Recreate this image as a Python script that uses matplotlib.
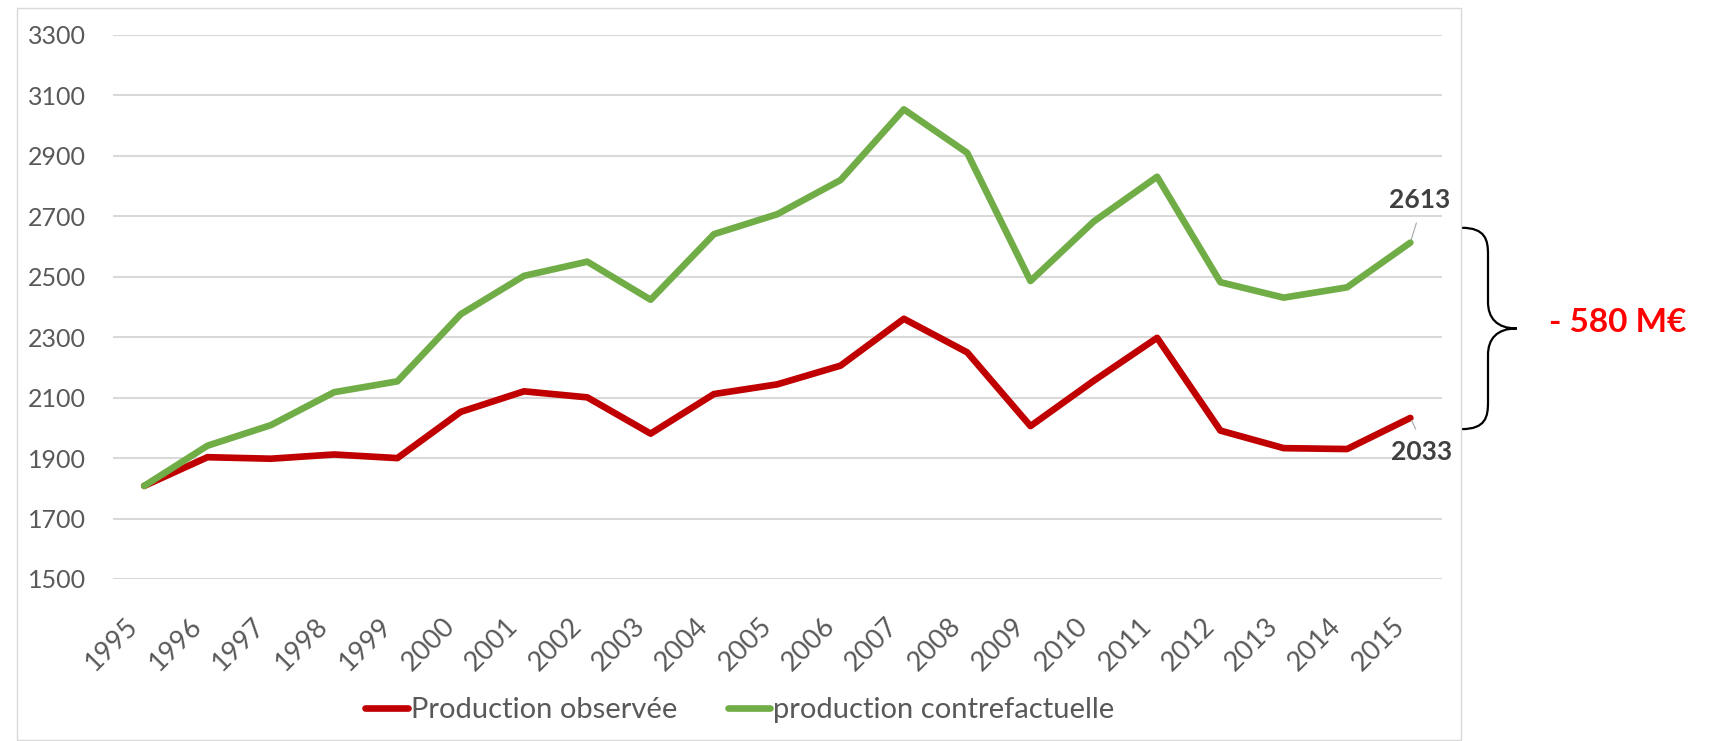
import matplotlib
matplotlib.use("Agg")
import matplotlib.pyplot as plt
from matplotlib.patches import Rectangle, PathPatch
from matplotlib.path import Path
from matplotlib.transforms import blended_transform_factory

plt.rcParams["font.family"] = ["Lato", "DejaVu Sans"]

# data
years = [str(y) for y in range(1995, 2016)]
observed = [1808, 1903, 1898, 1912, 1900, 2053, 2121, 2101, 1981, 2112, 2144,
            2206, 2361, 2250, 2006, 2156, 2298, 1991, 1933, 1930, 2033]
counterfactual = [1808, 1941, 2009, 2118, 2154, 2376, 2503, 2550, 2424, 2641, 2707,
                  2820, 3054, 2910, 2486, 2683, 2831, 2482, 2431, 2465, 2613]
y_ticks = [1500, 1700, 1900, 2100, 2300, 2500, 2700, 2900, 3100, 3300]
series_names = ["Production observée", "production contrefactuelle"]
gap_label = "- 580 M€"

RED = "#C00000"
GREEN = "#70AD47"
TEXT_GRAY = "#595959"
GRID = "#D9D9D9"

W, H = 1716, 741
fig = plt.figure(figsize=(W / 100, H / 100), dpi=100)
ax = fig.add_axes([112.5 / W, 1 - 579 / H, (1442 - 112.5) / W, (579 - 35) / H])

x = list(range(len(years)))
ax.plot(x, observed, color=RED, lw=4.8, solid_joinstyle="round",
        solid_capstyle="round", label=series_names[0], zorder=3)
ax.plot(x, counterfactual, color=GREEN, lw=4.8, solid_joinstyle="round",
        solid_capstyle="round", label=series_names[1], zorder=4)

ax.set_xlim(-0.5, len(years) - 0.5)
ax.set_ylim(y_ticks[0], y_ticks[-1])
ax.set_yticks(y_ticks)
ax.set_xticks(x)
ax.set_xticklabels([])
ax.tick_params(axis="both", length=0, labelcolor=TEXT_GRAY)
ax.tick_params(axis="y", pad=19, labelsize=18)
for s in ax.spines.values():
    s.set_visible(False)
ax.grid(axis="y", color=GRID, lw=1.5)
ax.set_axisbelow(True)

# rotated year labels, placed under each category
xlab_tr = blended_transform_factory(ax.transData, ax.transAxes)
for i, yr in zip(x, years):
    ax.annotate(yr, xy=(i, 0), xycoords=xlab_tr, xytext=(-7, -31),
                textcoords="offset points", rotation=45, rotation_mode="anchor",
                ha="right", va="center", fontsize=19.5, color=TEXT_GRAY)

# end labels with small leader lines
ax.annotate(str(counterfactual[-1]), xy=(x[-1], counterfactual[-1]),
            xytext=(6.7, 30.5), textcoords="offset points", ha="center", va="center",
            fontsize=19, fontweight="bold", color="#404040",
            arrowprops=dict(arrowstyle="-", color="#A6A6A6", lw=0.8, relpos=(0.5, 0),
                            patchA=None, shrinkA=8, shrinkB=2))
ax.annotate(str(observed[-1]), xy=(x[-1], observed[-1]),
            xytext=(7.8, -24.8), textcoords="offset points", ha="center", va="center",
            fontsize=19, fontweight="bold", color="#404040",
            arrowprops=dict(arrowstyle="-", color="#A6A6A6", lw=0.8, relpos=(0.5, 1),
                            patchA=None, shrinkA=9, shrinkB=2))

# curly brace showing the gap
tr = blended_transform_factory(ax.transAxes, ax.transData)
top, bottom = 2662, 1996
mid = (top + bottom) / 2
r = 88
x0, xv, xt = 1.0148, 1.0346, 1.0562
verts = [
    (x0, top),
    (x0 + (xv - x0) * 0.9, top), (xv, top - r * 0.45), (xv, top - r),
    (xv, mid + r),
    (xv, mid + r * 0.4), (xv + (xt - xv) * 0.3, mid), (xt, mid),
    (xv + (xt - xv) * 0.3, mid), (xv, mid - r * 0.4), (xv, mid - r),
    (xv, bottom + r),
    (xv, bottom + r * 0.45), (x0 + (xv - x0) * 0.9, bottom), (x0, bottom),
]
codes = [Path.MOVETO, Path.CURVE4, Path.CURVE4, Path.CURVE4, Path.LINETO,
         Path.CURVE4, Path.CURVE4, Path.CURVE4, Path.CURVE4, Path.CURVE4, Path.CURVE4,
         Path.LINETO, Path.CURVE4, Path.CURVE4, Path.CURVE4]
ax.add_patch(PathPatch(Path(verts, codes), transform=tr, fill=False,
                       edgecolor="black", lw=1.6, clip_on=False))

fig.text(1618 / W, 1 - 322.7 / H, gap_label, ha="center", va="center",
         fontsize=24, fontweight="bold", color="#FF0000")

# chart frame
fig.patches.append(Rectangle((17 / W, 1 - 740 / H), (1461 - 17) / W, (740 - 8) / H,
                             transform=fig.transFigure, fill=False,
                             edgecolor=GRID, lw=1))

leg = fig.legend(loc="center", bbox_to_anchor=(740 / W, 1 - 710 / H), ncol=2,
                 frameon=False, fontsize=21, handlelength=1.45, handletextpad=0.1,
                 columnspacing=1.75)
for t in leg.get_texts():
    t.set_color(TEXT_GRAY)

fig.savefig("out.png", dpi=100)
